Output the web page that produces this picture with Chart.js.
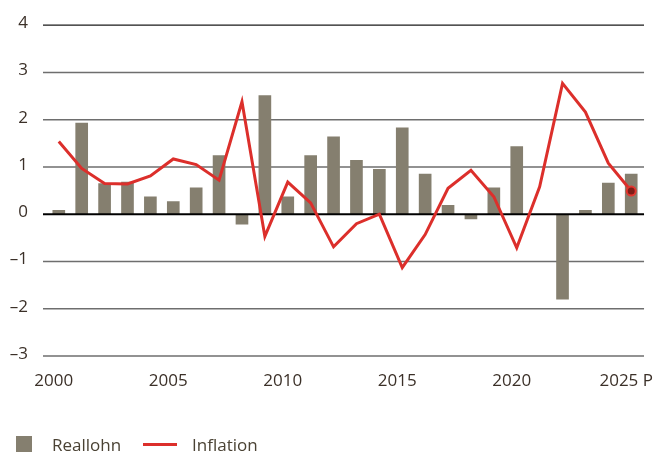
<!DOCTYPE html>
<html lang="de">
<head>
    <meta charset="UTF-8">
    <title>Reallohn und Inflation</title>
    <style>
        html, body {
            margin: 0;
            overflow: hidden;
            background: #ffffff;
            font-family: "Open Sans", Arial, sans-serif;
        }
        .wrap {
            position: relative;
            width: 661px;
            height: 453px;
            overflow: hidden;
        }
        .legend {
            position: absolute;
            left: 0;
            top: 433px;
            font-size: 17px;
            color: #4a4234;
        }
        .legend span { position: absolute; white-space: nowrap; }
        .sw-bar { left: 16px; top: 3px; width: 16px; height: 16px; background: #857f6f; }
        .sw-line { left: 143px; top: 10px; width: 34px; height: 3px; background: #dc2f2b; }
    </style>
    <script src="https://cdn.jsdelivr.net/npm/chart.js"></script>
</head>
<body>
<div class="wrap">
    <!-- canvas a bit wider than the page so Chart.js does not shrink the plot for "2025 P" -->
    <canvas id="chart" width="700" height="453"></canvas>
    <div class="legend">
        <span class="sw-bar"></span>
        <span style="left:52px; top:0">Reallohn</span>
        <span class="sw-line"></span>
        <span style="left:192px; top:0">Inflation</span>
    </div>
</div>

<script>
    // Jahre 2000 bis 2025 (2025 = Prognose)
    const years = [2000, 2001, 2002, 2003, 2004, 2005, 2006, 2007, 2008, 2009,
                   2010, 2011, 2012, 2013, 2014, 2015, 2016, 2017, 2018, 2019,
                   2020, 2021, 2022, 2023, 2024, 2025];

    // Reallohn, Veränderung in %
    const reallohn = [0.08, 1.93, 0.65, 0.68, 0.37, 0.27, 0.56, 1.24, -0.21, 2.51,
                      0.37, 1.24, 1.64, 1.14, 0.95, 1.83, 0.85, 0.19, -0.10, 0.56,
                      1.43, 0, -1.80, 0.08, 0.66, 0.85];

    // Inflation in %
    const inflation = [1.54, 0.97, 0.65, 0.64, 0.81, 1.17, 1.05, 0.72, 2.38, -0.47,
                       0.68, 0.24, -0.69, -0.20, 0.00, -1.13, -0.43, 0.55, 0.93, 0.37,
                       -0.71, 0.58, 2.77, 2.16, 1.08, 0.49];

    const yTicks = [-3, -2, -1, 0, 1, 2, 3, 4];
    const xTicks = [2000, 2005, 2010, 2015, 2020, 2025];
    const forecastYear = 2025;

    // x range of the (wider) canvas; grid lines stop at gridEnd
    const xMin = 1999.31;
    const xMax = 2027.72;
    const gridEnd = 2025.56;

    const textColor = '#3b3028';
    const font = { family: '"Open Sans", Arial, sans-serif', size: 17 };
    const yAxisWidth = 43;

    const lastIdx = years.length - 1;

    function hLine(chart, value, color, width) {
        const { ctx, chartArea, scales } = chart;
        const py = scales.y.getPixelForValue(value);
        const right = scales.x.getPixelForValue(gridEnd);
        ctx.save();
        ctx.beginPath();
        ctx.strokeStyle = color;
        ctx.lineWidth = width;
        ctx.moveTo(chartArea.left, py);
        ctx.lineTo(right, py);
        ctx.stroke();
        ctx.restore();
    }

    const gridPlugin = {
        id: 'hgrid',
        beforeDatasetsDraw(chart) {
            yTicks.forEach(v => {
                if (v === 0) return;
                hLine(chart, v, v === 4 ? '#1a1a1a' : '#6e6e6e', v === 4 ? 1.2 : 1.6);
            });
        },
        afterDatasetDraw(chart, args) {
            // zero line over the bars, under the inflation line
            if (args.index === 1) hLine(chart, 0, '#000000', 2);
        }
    };

    new Chart(document.getElementById('chart'), {
        type: 'bar',
        data: {
            datasets: [
                {
                    type: 'line',
                    label: 'Inflation',
                    data: years.map((yr, i) => ({ x: yr, y: inflation[i] })),
                    borderColor: '#dc2f2b',
                    borderWidth: 3,
                    tension: 0,
                    pointRadius: years.map((yr, i) => i === lastIdx ? 4.5 : 0),
                    pointBackgroundColor: '#7e1d17',
                    pointBorderColor: '#e3362f',
                    pointBorderWidth: 2,
                    order: 0
                },
                {
                    label: 'Reallohn',
                    data: years.map((yr, i) => ({ x: yr, y: reallohn[i] })),
                    backgroundColor: '#857f6f',
                    barThickness: 12,
                    order: 1
                }
            ]
        },
        options: {
            responsive: false,
            animation: false,
            layout: { padding: { top: 25, right: 0, left: 0, bottom: 67 } },
            plugins: {
                legend: { display: false },
                tooltip: { enabled: false }
            },
            scales: {
                x: {
                    type: 'linear',
                    offset: false,
                    min: xMin,
                    max: xMax,
                    afterBuildTicks: (s) => { s.ticks = xTicks.map(v => ({ value: v })); },
                    afterFit: (s) => {
                        s.height = 30;
                        s.paddingLeft = 0;
                        s.paddingRight = 0;
                    },
                    grid: { display: false, drawTicks: false },
                    border: { display: false },
                    ticks: {
                        font: font,
                        color: textColor,
                        padding: 15,
                        labelOffset: -5,
                        maxRotation: 0,
                        autoSkip: false,
                        callback: (v) => v === forecastYear ? v + ' P' : String(v)
                    }
                },
                y: {
                    min: -3,
                    max: 4,
                    afterBuildTicks: (s) => { s.ticks = yTicks.map(v => ({ value: v })); },
                    afterFit: (s) => { s.width = yAxisWidth; },
                    border: { display: false },
                    grid: { display: false, drawTicks: false },
                    ticks: {
                        font: font,
                        color: textColor,
                        padding: 15,
                        labelOffset: -2,
                        callback: (v) => v < 0 ? '\u2013' + Math.abs(v) : String(v)
                    }
                }
            }
        },
        plugins: [gridPlugin]
    });
</script>
</body>
</html>
